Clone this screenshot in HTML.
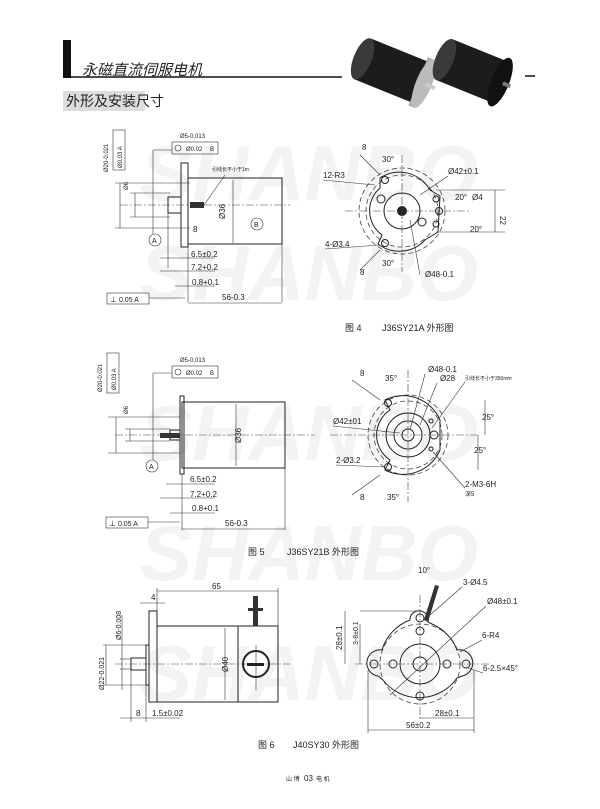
<!DOCTYPE html>
<html><head><meta charset="utf-8"><style>
html,body{margin:0;padding:0;background:#fff;}
svg{display:block;}
text{font-family:"Liberation Sans","Noto Sans CJK SC",sans-serif;fill:#222;}
.wm{font-family:"Liberation Sans",sans-serif;font-weight:bold;font-style:italic;fill:#f3f3f3;font-size:78px;}
.l{stroke:#222;stroke-width:1;fill:none;}
.t{stroke:#333;stroke-width:0.6;fill:none;}
.c{stroke:#444;stroke-width:0.6;fill:none;stroke-dasharray:8 2 2 2;}
.d{stroke:#444;stroke-width:0.8;fill:none;stroke-dasharray:5 3;}
.s{font-size:8px;}
.cap{font-size:9px;}
</style></head><body>
<svg width="600" height="809" viewBox="0 0 600 809" xmlns="http://www.w3.org/2000/svg">
<!-- watermarks -->
<text class="wm" x="140" y="200">SHANBO</text>
<text class="wm" x="140" y="300">SHANBO</text>
<text class="wm" x="140" y="460">SHANBO</text>
<text class="wm" x="140" y="580">SHANBO</text>
<text class="wm" x="140" y="700">SHANBO</text>

<!-- header -->
<rect x="63" y="40" width="8" height="38" fill="#111"/>
<line x1="63" y1="77" x2="342" y2="77" stroke="#111" stroke-width="1.5"/>
<text x="82" y="75" font-size="15" font-style="italic">永磁直流伺服电机</text>
<line x1="525" y1="76" x2="535" y2="76" stroke="#111" stroke-width="1.5"/>
<!-- motor photos -->
<g transform="rotate(22 395 72)">
<rect x="360" y="50" width="62" height="44" fill="#1c1c1c"/>
<ellipse cx="360" cy="72" rx="9" ry="22" fill="#3a3a3a"/>
<ellipse cx="422" cy="72" rx="9" ry="22" fill="#1c1c1c"/>
<rect x="420" y="46" width="6" height="52" fill="#aaa"/>
<ellipse cx="426" cy="72" rx="8" ry="26" fill="#bbb"/>
<rect x="428" y="70" width="10" height="4" fill="#ccc"/>
</g>
<g transform="rotate(22 475 72)">
<rect x="442" y="50" width="58" height="44" fill="#1c1c1c"/>
<ellipse cx="442" cy="72" rx="9" ry="22" fill="#3a3a3a"/>
<ellipse cx="502" cy="72" rx="9" ry="26" fill="#111"/>
<rect x="505" y="70" width="8" height="4" fill="#777"/>
</g>
<rect x="63" y="91" width="82" height="20" fill="#ddd"/>
<text x="66" y="106" font-size="14">外形及安装尺寸</text>

<!-- ===== FIG 4 side ===== -->
<g>
<rect class="l" x="188" y="178" width="94" height="66"/>
<rect class="l" x="181" y="163" width="7" height="84"/>
<rect class="l" x="168" y="197" width="13" height="16"/>
<line class="c" x1="120" y1="205" x2="290" y2="205"/>
<rect x="190" y="202" width="14" height="6" fill="#333"/>
<line class="t" x1="204" y1="205" x2="225" y2="175"/>
<text x="212" y="171" font-size="5">引线长不小于1m</text>
<text x="223" y="217" class="s" transform="rotate(-90 225 217)">Ø36</text>
<line class="t" x1="233" y1="180" x2="233" y2="243"/>
<circle class="t" cx="257" cy="224" r="6"/><text x="254" y="227" font-size="7">B</text>
<text x="193" y="232" class="s">8</text>
<circle class="t" cx="155" cy="240" r="6"/><text x="152" y="243" font-size="7">A</text>
<line class="t" x1="153" y1="150" x2="153" y2="234"/>
<line class="t" x1="153" y1="150" x2="172" y2="150"/>
<rect class="t" x="172" y="142" width="46" height="12"/>
<circle class="t" cx="178" cy="148" r="3"/>
<text x="186" y="151" font-size="6">Ø0.02</text><text x="210" y="151" font-size="6">B</text>
<text x="180" y="138" font-size="6">Ø5-0.013</text>
<rect class="t" x="113" y="130" width="12" height="40"/>
<text x="122" y="168" font-size="6" transform="rotate(-90 122 168)">Ø0.03 A</text>
<text x="108" y="172" font-size="6" transform="rotate(-90 108 172)">Ø20-0.021</text>
<line class="t" x1="115" y1="183" x2="190" y2="183"/>
<line class="t" x1="115" y1="228" x2="190" y2="228"/>
<line class="t" x1="130" y1="193" x2="170" y2="193"/>
<line class="t" x1="130" y1="217" x2="170" y2="217"/>
<text x="128" y="190" font-size="6" transform="rotate(-90 128 190)">Ø6</text>
<line class="t" x1="120" y1="183" x2="120" y2="228"/>
<line class="t" x1="135" y1="193" x2="135" y2="217"/>
<line class="t" x1="188" y1="247" x2="188" y2="302"/>
<line class="t" x1="282" y1="244" x2="282" y2="302"/>
<line class="t" x1="168" y1="213" x2="168" y2="268"/>
<line class="t" x1="160" y1="258" x2="215" y2="258"/><text x="191" y="257" class="s">6.5±0.2</text>
<line class="t" x1="160" y1="271" x2="215" y2="271"/><text x="191" y="270" class="s">7.2+0.2</text>
<line class="t" x1="175" y1="286" x2="215" y2="286"/><text x="192" y="285" class="s">0.8+0.1</text>
<line class="t" x1="188" y1="303" x2="282" y2="303"/><text x="222" y="300" class="s">56-0.3</text>
<rect class="t" x="107" y="293" width="42" height="11"/>
<text x="110" y="302" font-size="7">⊥ 0.05 A</text>
<line class="t" x1="149" y1="298" x2="185" y2="298"/>
</g>
<!-- FIG 4 front -->
<g>
<circle class="d" cx="402" cy="211" r="43"/>
<circle class="d" cx="402" cy="211" r="36"/>
<path class="l" d="M380 178 A35 35 0 0 1 430 190 L440 196 L438 232 L425 240 A35 35 0 0 1 378 244 L382 235 A30 30 0 0 1 380 188Z"/>
<circle class="l" cx="402" cy="211" r="18"/>
<circle cx="402" cy="211" r="5" fill="#222"/>
<circle class="l" cx="385" cy="180" r="3.5"/><circle class="l" cx="385" cy="243" r="3.5"/>
<circle class="l" cx="381" cy="199" r="4"/><circle class="l" cx="422" cy="222" r="4"/>
<circle class="l" cx="436" cy="199" r="3"/><circle class="l" cx="439" cy="211" r="3.5"/><circle class="l" cx="436" cy="224" r="3"/>
<line class="c" x1="345" y1="211" x2="470" y2="211"/>
<line class="c" x1="402" y1="155" x2="402" y2="272"/>
<line class="t" x1="436" y1="190" x2="505" y2="190"/><line class="t" x1="436" y1="232" x2="505" y2="232"/>
<line class="t" x1="495" y1="190" x2="495" y2="232"/><text x="500" y="216" class="s" transform="rotate(90 500 216)">22</text>
<text x="323" y="178" class="s">12-R3</text><line class="t" x1="323" y1="180" x2="375" y2="185"/>
<text x="325" y="247" class="s">4-Ø3.4</text><line class="t" x1="325" y1="249" x2="380" y2="245"/>
<text x="382" y="162" class="s">30°</text><text x="382" y="266" class="s">30°</text>
<text x="448" y="174" class="s">Ø42±0.1</text><line class="t" x1="420" y1="195" x2="448" y2="176"/>
<text x="455" y="200" class="s">20°</text><text x="472" y="200" class="s">Ø4</text><text x="470" y="232" class="s">20°</text>
<text x="425" y="277" class="s">Ø48-0.1</text><line class="t" x1="410" y1="220" x2="420" y2="275"/>
<line class="t" x1="360" y1="155" x2="380" y2="175"/><text x="362" y="150" class="s">8</text>
<line class="t" x1="360" y1="270" x2="380" y2="250"/><text x="360" y="275" class="s">8</text>
</g>
<text x="345" y="331" class="cap">图 4</text><text x="382" y="331" class="cap">J36SY21A 外形图</text>

<!-- ===== FIG 5 side ===== -->
<g>
<rect class="l" x="182" y="402" width="103" height="66"/>
<rect class="l" x="180" y="396" width="4" height="78"/>
<rect class="l" x="170" y="430" width="10" height="10"/>
<rect x="160" y="433" width="20" height="5" fill="#333"/>
<line class="c" x1="115" y1="435" x2="315" y2="435"/>
<line class="t" x1="236" y1="404" x2="236" y2="466"/>
<text x="241" y="443" class="s" transform="rotate(-90 241 443)">Ø36</text>
<circle class="t" cx="152" cy="466" r="6"/><text x="149" y="469" font-size="7">A</text>
<line class="t" x1="153" y1="373" x2="153" y2="460"/>
<line class="t" x1="153" y1="373" x2="172" y2="373"/>
<rect class="t" x="172" y="366" width="46" height="12"/>
<circle class="t" cx="178" cy="372" r="3"/>
<text x="186" y="375" font-size="6">Ø0.02</text><text x="210" y="375" font-size="6">B</text>
<text x="180" y="362" font-size="6">Ø5-0.013</text>
<rect class="t" x="107" y="353" width="12" height="40"/>
<text x="116" y="390" font-size="6" transform="rotate(-90 116 390)">Ø0.03 A</text>
<text x="102" y="392" font-size="6" transform="rotate(-90 102 392)">Ø20-0.021</text>
<line class="t" x1="108" y1="417" x2="180" y2="417"/>
<line class="t" x1="108" y1="453" x2="180" y2="453"/>
<line class="t" x1="125" y1="429" x2="170" y2="429"/>
<line class="t" x1="125" y1="441" x2="170" y2="441"/>
<text x="128" y="414" font-size="6" transform="rotate(-90 128 414)">Ø6</text>
<line class="t" x1="116" y1="417" x2="116" y2="453"/>
<line class="t" x1="130" y1="429" x2="130" y2="441"/>
<line class="t" x1="182" y1="474" x2="182" y2="530"/>
<line class="t" x1="285" y1="468" x2="285" y2="530"/>
<line class="t" x1="166" y1="484" x2="215" y2="484"/><text x="190" y="482" class="s">6.5±0.2</text>
<line class="t" x1="160" y1="498" x2="215" y2="498"/><text x="190" y="497" class="s">7.2+0.2</text>
<line class="t" x1="170" y1="513" x2="215" y2="513"/><text x="192" y="511" class="s">0.8+0.1</text>
<line class="t" x1="182" y1="529" x2="285" y2="529"/><text x="225" y="526" class="s">56-0.3</text>
<rect class="t" x="106" y="517" width="42" height="11"/>
<text x="109" y="526" font-size="7">⊥ 0.05 A</text>
<line class="t" x1="148" y1="522" x2="180" y2="522"/>
</g>
<!-- FIG 5 front -->
<g>
<circle class="d" cx="408" cy="435" r="40"/>
<circle class="d" cx="408" cy="435" r="34"/>
<path class="l" d="M385 400 A40 40 0 0 1 440 420 L440 450 A40 40 0 0 1 385 470 L390 460 A30 30 0 0 1 390 410Z"/>
<circle class="l" cx="408" cy="435" r="22"/>
<circle class="l" cx="408" cy="435" r="14"/>
<circle class="l" cx="408" cy="435" r="6"/>
<circle class="l" cx="388" cy="403" r="3.5"/><circle class="l" cx="388" cy="467" r="3.5"/>
<circle class="l" cx="434" cy="435" r="4"/><circle class="l" cx="431" cy="421" r="2"/><circle class="l" cx="431" cy="449" r="2"/>
<line class="c" x1="330" y1="435" x2="480" y2="435"/>
<line class="c" x1="408" y1="370" x2="408" y2="502"/>
<text x="428" y="372" class="s">Ø48-0.1</text><line class="t" x1="425" y1="374" x2="410" y2="430"/>
<text x="440" y="381" class="s">Ø28</text><line class="t" x1="437" y1="383" x2="420" y2="425"/>
<text x="465" y="380" font-size="5">引线长不小于350mm</text><line class="t" x1="465" y1="382" x2="432" y2="428"/>
<text x="333" y="424" class="s">Ø42±01</text><line class="t" x1="333" y1="426" x2="400" y2="433"/>
<text x="336" y="463" class="s">2-Ø3.2</text><line class="t" x1="336" y1="465" x2="385" y2="467"/>
<text x="465" y="487" class="s">2-M3-6H</text><text x="465" y="496" font-size="6">深5</text><line class="t" x1="465" y1="488" x2="433" y2="452"/>
<text x="385" y="381" class="s">35°</text><text x="387" y="500" class="s">35°</text>
<text x="482" y="420" class="s">25°</text><text x="474" y="453" class="s">25°</text>
<line class="t" x1="485" y1="400" x2="485" y2="435"/><line class="t" x1="478" y1="435" x2="478" y2="470"/>
<line class="t" x1="352" y1="380" x2="380" y2="400"/><text x="360" y="376" class="s">8</text>
<line class="t" x1="352" y1="495" x2="380" y2="475"/><text x="360" y="500" class="s">8</text>
</g>
<text x="248" y="555" class="cap">图 5</text><text x="287" y="555" class="cap">J36SY21B 外形图</text>

<!-- ===== FIG 6 side ===== -->
<g>
<rect class="l" x="157" y="626" width="121" height="76"/>
<rect class="l" x="149" y="611" width="8" height="91"/>
<rect class="l" x="146" y="645" width="3" height="40"/>
<rect class="l" x="131" y="658" width="15" height="12"/>
<line class="l" x1="238" y1="626" x2="238" y2="702"/>
<line class="t" x1="225" y1="628" x2="225" y2="700"/>
<text x="228" y="672" class="s" transform="rotate(-90 228 672)">Ø40</text>
<line class="c" x1="115" y1="664" x2="290" y2="664"/>
<circle cx="256" cy="664" r="13" fill="none" stroke="#222" stroke-width="2"/>
<rect x="247" y="663" width="17" height="3" fill="#222"/>
<line class="t" x1="256" y1="645" x2="256" y2="690"/>
<rect x="253" y="596" width="5" height="30" fill="#333"/>
<rect x="248" y="608" width="15" height="3" fill="#333"/>
<line class="t" x1="157" y1="588" x2="157" y2="611"/><line class="t" x1="278" y1="588" x2="278" y2="626"/>
<line class="t" x1="157" y1="591" x2="278" y2="591"/><text x="212" y="589" class="s">65</text>
<line class="t" x1="140" y1="603" x2="165" y2="603"/><text x="151" y="600" class="s">4</text>
<text x="121" y="640" font-size="7" transform="rotate(-90 121 640)">Ø6-0.008</text>
<text x="104" y="690" font-size="7" transform="rotate(-90 104 690)">Ø22-0.021</text>
<line class="t" x1="120" y1="659" x2="131" y2="659"/><line class="t" x1="120" y1="669" x2="131" y2="669"/>
<line class="t" x1="122" y1="615" x2="122" y2="690"/>
<line class="t" x1="103" y1="645" x2="146" y2="645"/><line class="t" x1="103" y1="685" x2="146" y2="685"/>
<line class="t" x1="106" y1="645" x2="106" y2="685"/>
<line class="t" x1="131" y1="670" x2="131" y2="722"/><line class="t" x1="146" y1="685" x2="146" y2="722"/>
<line class="t" x1="120" y1="718" x2="180" y2="718"/>
<text x="136" y="716" class="s">8</text><text x="152" y="716" class="s">1.5±0.02</text>
</g>
<!-- FIG 6 front -->
<g>
<circle class="d" cx="420" cy="664" r="40"/>
<path class="l" d="M410 618 A8 8 0 0 1 428 622 L432 624 A46 46 0 0 1 457 650 A8 8 0 0 1 462 676 L457 678 A46 46 0 0 1 383 680 L378 676 A8 8 0 0 1 382 650 A46 46 0 0 1 410 620Z"/>
<circle class="l" cx="420" cy="664" r="20"/>
<circle class="l" cx="420" cy="664" r="7"/>
<circle class="l" cx="420" cy="618" r="4"/><circle class="l" cx="374" cy="664" r="4"/><circle class="l" cx="466" cy="664" r="4"/>
<circle class="l" cx="420" cy="631" r="4"/><circle class="l" cx="393" cy="664" r="4"/><circle class="l" cx="447" cy="664" r="4"/><circle class="l" cx="420" cy="696" r="4"/>
<line class="c" x1="355" y1="664" x2="490" y2="664"/>
<line class="c" x1="420" y1="595" x2="420" y2="720"/>
<path d="M424 620 L435 585 L439 586 L428 622Z" fill="#333"/>
<line class="t" x1="360" y1="611" x2="420" y2="611"/>
<line class="t" x1="345" y1="611" x2="345" y2="664"/><text x="342" y="650" class="s" transform="rotate(-90 342 650)">28±0.1</text>
<line class="t" x1="360" y1="624" x2="360" y2="664"/><text x="358" y="645" font-size="7" transform="rotate(-90 358 645)">3-8±0.1</text>
<text x="418" y="573" class="s">10°</text>
<text x="463" y="585" class="s">3-Ø4.5</text><line class="t" x1="462" y1="587" x2="430" y2="615"/>
<text x="487" y="604" class="s">Ø48±0.1</text><line class="t" x1="486" y1="606" x2="390" y2="695"/>
<text x="482" y="638" class="s">6-R4</text><line class="t" x1="482" y1="640" x2="460" y2="652"/>
<text x="483" y="671" class="s">6-2.5×45°</text><line class="t" x1="483" y1="673" x2="468" y2="668"/>
<line class="t" x1="420" y1="718" x2="474" y2="718"/><text x="435" y="716" class="s">28±0.1</text>
<line class="t" x1="368" y1="730" x2="474" y2="730"/><text x="406" y="728" class="s">56±0.2</text>
<line class="t" x1="368" y1="670" x2="368" y2="733"/><line class="t" x1="474" y1="670" x2="474" y2="733"/>
</g>
<text x="258" y="748" class="cap">图 6</text><text x="293" y="748" class="cap">J40SY30 外形图</text>

<text x="286" y="781" font-size="6">山 博</text><text x="304" y="781" font-size="8">03</text><text x="316" y="781" font-size="6">电 机</text>
</svg>
</body></html>
